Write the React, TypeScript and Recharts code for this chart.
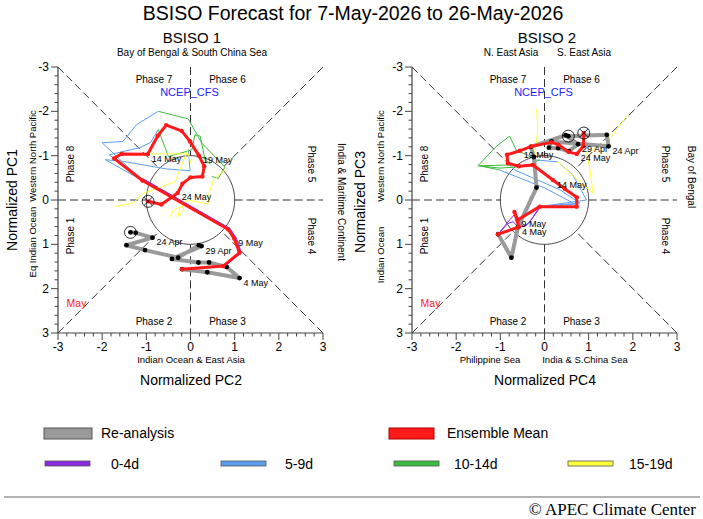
import React from "react";
import { ScatterChart, Scatter, XAxis, YAxis, ReferenceLine } from "recharts";

type Track = [number, number][];

const FONT = "'Liberation Sans', Arial, Helvetica, sans-serif";
const AXIS_COLOR = "#444";

// day labels of the analysed and forecast tracks
const OBS_DATES = [
  "22 Apr", "23 Apr", "24 Apr", "25 Apr", "26 Apr", "27 Apr", "28 Apr", "29 Apr",
  "30 Apr", "1 May", "2 May", "3 May", "4 May", "5 May", "6 May",
];
const FCST_DATES = [
  "6 May", "7 May", "8 May", "9 May", "10 May", "11 May", "12 May", "13 May", "14 May",
  "15 May", "16 May", "17 May", "18 May", "19 May", "20 May", "21 May", "22 May",
  "23 May", "24 May", "25 May", "26 May",
];
const LABELLED_DATES = ["24 Apr", "29 Apr", "4 May", "9 May", "14 May", "19 May", "24 May"];

// BSISO1: horizontal = PC2, vertical = PC1
const B1_OBS_PC2 = [-1.36, -1.24, -0.86, -1.45, -1.03, -0.28, 0.19, 0.25, -0.42, 0.18, 0.42, 0.82, 1.11, 0.38, -0.19];
const B1_OBS_PC1 = [0.73, 0.74, 0.85, 1.02, 1.13, 1.3, 1.02, 1.04, 1.33, 1.41, 1.41, 1.51, 1.76, 1.63, 1.56];
const B1_MEAN_PC2 = [
  -0.19, 0.74, 1.11, 0.99, 0.85, -1.09, -1.73, -1.56, -0.97, -0.74, -0.55, -0.2, -0.01,
  0.19, 0.31, 0.27, 0.0, -0.18, -0.29, -0.66, -0.96,
];
const B1_MEAN_PC1 = [
  1.56, 1.49, 1.19, 0.87, 0.66, -0.44, -0.94, -1.04, -1.03, -1.45, -1.69, -1.56, -1.32,
  -1.0, -0.76, -0.53, -0.51, -0.37, -0.16, 0.1, 0.03,
];

// BSISO1 member tracks, one list per lead-time band
const B1_LEAD_0_4: Track[] = [
  [[-0.15, 1.55], [0.78, 1.48], [1.15, 1.18], [1.04, 0.86], [0.9, 0.65], [-1.05, -0.46]],
  [[0.77, 1.5], [1.14, 1.2], [1.03, 0.88], [0.89, 0.64], [-1.06, -0.47]],
];
const B1_LEAD_5_9: Track[] = [
  [[-1.09, -0.44], [-2.0, -1.29], [-1.53, -1.32], [-1.22, -1.7], [-0.73, -2.0]],
  [[-1.09, -0.44], [-1.93, -0.91], [-1.52, -0.87], [-0.54, -0.7], [-0.01, -0.66], [-0.05, -1.15]],
  [[-1.09, -0.44], [-1.84, -1.02], [-1.15, -1.18], [-0.9, -1.3], [-0.73, -1.59]],
];
const B1_LEAD_10_14: Track[] = [
  [[-0.73, -2.0], [-0.05, -1.83], [0.25, -1.29], [0.78, -0.74], [0.63, -0.49], [0.48, -0.53]],
  [[-0.73, -1.59], [-0.5, -0.98], [0.03, -1.13], [0.1, -1.47], [0.22, -1.44], [0.33, -0.91], [0.45, -0.8]],
];
const B1_LEAD_15_19: Track[] = [
  [[-0.05, -1.15], [-0.35, -0.41], [-0.65, -0.3], [-1.07, -0.15], [-1.3, 0.07], [-1.71, 0.15]],
  [[-0.46, 0.38], [-0.39, 0.23], [-0.24, 0.15], [-0.28, 0.38], [-0.16, 0.23], [-0.2, 0.07],
   [-0.05, 0.0], [0.4, 0.09], [0.42, -0.15], [0.52, -0.45], [0.78, -0.68]],
  [[-1.15, -1.04], [-0.51, -1.04], [-0.05, -1.04], [0.02, -0.8]],
];

// BSISO2: horizontal = PC4, vertical = PC3
const B2_OBS_PC4 = [0.54, 1.41, 1.45, 0.16, 0.1, 0.31, 0.55, 0.76, 0.48, -0.31, -0.24, -0.18, -0.6, -0.75, -1.05];
const B2_OBS_PC3 = [-1.44, -1.47, -1.21, -1.32, -1.18, -1.17, -1.1, -1.26, -1.46, -1.2, -0.97, -0.28, 0.61, 1.3, 0.77];
const B2_MEAN_PC4 = [
  -1.05, -0.58, -0.68, -0.61, -0.11, 0.73, 0.73, 0.46, 0.19, -0.26, -0.58, -0.83, -0.85,
  -0.56, -0.3, 0.16, 0.31, 0.55, 0.73, 0.88, 0.89,
];
const B2_MEAN_PC3 = [
  0.77, 0.61, 0.27, 0.45, 0.15, 0.15, -0.06, -0.25, -0.45, -0.79, -0.76, -0.83, -1.02,
  -1.11, -1.21, -1.3, -1.25, -1.08, -1.04, -1.21, -1.51,
];

const B2_LEAD_0_4: Track[] = [
  [[-1.05, 0.77], [-0.83, 0.53], [-0.71, 0.49], [-0.6, 0.61], [-0.41, 0.57], [-0.3, 0.45], [-0.11, 0.15]],
  [[-1.05, 0.77], [-0.79, 0.45], [-0.65, 0.3], [-0.49, 0.61], [-0.37, 0.53], [-0.11, 0.19]],
];
const B2_LEAD_5_9: Track[] = [
  [[-0.11, 0.15], [0.8, 0.07], [0.35, -0.23], [-0.68, -0.68], [-0.79, -0.79]],
  [[-0.11, 0.15], [0.95, 0.0], [0.64, -0.57], [0.3, -0.86], [-0.27, -0.91]],
  [[-0.11, 0.15], [0.69, 0.09], [0.01, -0.27], [-0.9, -0.63], [-1.02, -0.68]],
];
const B2_LEAD_10_14: Track[] = [
  [[-0.79, -0.79], [-1.51, -0.77], [-1.09, -1.21], [-0.79, -1.44], [-0.64, -1.13], [-0.26, -0.95]],
  [[-1.02, -0.68], [-1.47, -0.77], [-1.01, -0.72], [-0.41, -0.76], [-0.11, -0.91]],
];
const B2_LEAD_15_19: Track[] = [
  [[-0.26, -0.95], [-0.19, -1.21], [-0.15, -1.67], [-0.18, -2.04]],
  [[0.3, -0.86], [1.1, -0.15], [1.03, -0.68], [0.95, -1.06], [1.41, -1.29], [1.86, -1.89]],
];

const LEAD_COLORS = ["#8a2be2", "#5a9ef0", "#3cbc3c", "#ffff3a"];
const LEAD_NAMES = ["0-4d", "5-9d", "10-14d", "15-19d"];

const AXIS_TICKS = Array.from({ length: 31 }, (_, i) => (i * 2 - 30) / 10);

// amplitude-one circle and the phase dividers outside it
const RING = Array.from({ length: 121 }, (_, i) => ({
  x: Math.cos((i * Math.PI) / 60),
  y: Math.sin((i * Math.PI) / 60),
}));
const S = Math.SQRT1_2;
const DIVIDERS: Track[] = [
  [[-3, -3], [-S, -S]], [[3, -3], [S, -S]], [[-3, 3], [-S, S]], [[3, 3], [S, S]],
  [[-3, 0], [-1, 0]], [[1, 0], [3, 0]], [[0, -3], [0, -1]], [[0, 1], [0, 3]],
];

const toPts = (xs: number[], ys: number[], dates: string[]) =>
  xs.map((x, i) => ({ x, y: ys[i], date: dates[i] }));
const trackPts = (t: Track) => t.map(([x, y]) => ({ x, y }));

function tickRenderer(side: "bottom" | "top" | "left" | "right", labels: boolean) {
  return (props: any) => {
    const { x, y, payload } = props;
    const v = payload.value as number;
    const major = Math.abs(v - Math.round(v)) < 1e-6;
    const len = major ? 7 : 3.5;
    const dx = side === "left" ? -1 : side === "right" ? 1 : 0;
    const dy = side === "bottom" ? 1 : side === "top" ? -1 : 0;
    let label = null;
    if (labels && major) {
      const txt = String(Math.round(v) === 0 ? 0 : Math.round(v));
      label =
        side === "bottom" ? (
          <text x={x} y={y + 14} textAnchor="middle" dominantBaseline="central" fontSize={12} fill="#000" fontFamily={FONT}>
            {txt}
          </text>
        ) : (
          <text x={x - 9} y={y} textAnchor="end" dominantBaseline="central" fontSize={12} fill="#000" fontFamily={FONT}>
            {txt}
          </text>
        );
    }
    return (
      <g>
        <line x1={x} y1={y} x2={x + dx * len} y2={y + dy * len} stroke={AXIS_COLOR} strokeWidth={1} />
        {label}
      </g>
    );
  };
}

const NoDot = () => <g />;

interface PanelProps {
  obsX: number[];
  obsY: number[];
  meanX: number[];
  meanY: number[];
  leads: Track[][];
}

function PhasePanel({ obsX, obsY, meanX, meanY, leads }: PanelProps) {
  const obs = toPts(obsX, obsY, OBS_DATES);
  const mean = toPts(meanX, meanY, FCST_DATES);
  const tagged = [...obs, ...mean].filter((p) => LABELLED_DATES.includes(p.date));
  const axis = { xAxisId: "b", yAxisId: "l" };

  return (
    <ScatterChart width={352} height={400} margin={{ top: 67, right: 29, bottom: 0, left: 0 }}>
      <XAxis xAxisId="b" type="number" dataKey="x" domain={[-3, 3]} ticks={AXIS_TICKS} interval={0}
        allowDataOverflow height={67} tickSize={0} tickMargin={0} tickLine={false}
        axisLine={{ stroke: AXIS_COLOR, strokeWidth: 1.2 }} tick={tickRenderer("bottom", true)} />
      <XAxis xAxisId="t" orientation="top" type="number" dataKey="x" domain={[-3, 3]} ticks={AXIS_TICKS}
        interval={0} allowDataOverflow height={0} tickSize={0} tickMargin={0} tickLine={false}
        axisLine={{ stroke: AXIS_COLOR, strokeWidth: 1.2 }} tick={tickRenderer("top", false)} />
      <YAxis yAxisId="l" type="number" dataKey="y" domain={[-3, 3]} reversed ticks={AXIS_TICKS} interval={0}
        allowDataOverflow width={58} tickSize={0} tickMargin={0} tickLine={false}
        axisLine={{ stroke: AXIS_COLOR, strokeWidth: 1.2 }} tick={tickRenderer("left", true)} />
      <YAxis yAxisId="r" orientation="right" type="number" dataKey="y" domain={[-3, 3]} reversed
        ticks={AXIS_TICKS} interval={0} allowDataOverflow width={0} tickSize={0} tickMargin={0}
        tickLine={false} axisLine={{ stroke: AXIS_COLOR, strokeWidth: 1.2 }} tick={tickRenderer("right", false)} />
      <Scatter xAxisId="t" yAxisId="r" data={[{ x: 0, y: 0 }]} shape={NoDot} isAnimationActive={false} />

      {DIVIDERS.map((seg, i) => (
        <ReferenceLine key={`d${i}`} {...axis} segment={[{ x: seg[0][0], y: seg[0][1] }, { x: seg[1][0], y: seg[1][1] }]}
          stroke="#333" strokeWidth={1} strokeDasharray="8 4" />
      ))}
      <Scatter {...axis} data={RING} shape={NoDot} line={{ stroke: "#333", strokeWidth: 0.9 }} isAnimationActive={false} />

      {leads.map((group, g) =>
        group.map((t, k) => (
          <Scatter key={`m${g}-${k}`} {...axis} data={trackPts(t)} shape={NoDot}
            line={{ stroke: LEAD_COLORS[g], strokeWidth: 1 }} isAnimationActive={false} />
        )),
      )}

      <Scatter {...axis} data={obs} isAnimationActive={false}
        line={{ stroke: "#9a9a9a", strokeWidth: 4, strokeLinejoin: "round" }}
        shape={(p: any) => <circle cx={p.cx} cy={p.cy} r={2.4} fill="#000" />} />
      <Scatter {...axis} data={mean} isAnimationActive={false}
        line={{ stroke: "#ff1a1a", strokeWidth: 3, strokeLinejoin: "round" }}
        shape={(p: any) => <circle cx={p.cx} cy={p.cy} r={2.2} fill="#ff1a1a" />} />

      {/* start of the analysed track */}
      <Scatter {...axis} data={obs.slice(0, 1)} isAnimationActive={false}
        shape={(p: any) => <circle cx={p.cx} cy={p.cy} r={6} fill="none" stroke="#000" strokeWidth={0.8} />} />
      {/* end of the ensemble-mean forecast */}
      <Scatter {...axis} data={mean.slice(-1)} isAnimationActive={false}
        shape={(p: any) => (
          <g stroke="#000" strokeWidth={0.8} fill="none">
            <circle cx={p.cx} cy={p.cy} r={6} />
            <line x1={p.cx - 4.2} y1={p.cy - 4.2} x2={p.cx + 4.2} y2={p.cy + 4.2} />
            <line x1={p.cx - 4.2} y1={p.cy + 4.2} x2={p.cx + 4.2} y2={p.cy - 4.2} />
          </g>
        )} />
      <Scatter {...axis} data={tagged} isAnimationActive={false}
        shape={(p: any) => (
          <text x={p.cx + 4} y={p.cy + 4.5} dominantBaseline="central" fontSize={9} fill="#000" fontFamily={FONT}>
            {p.payload.date}
          </text>
        )} />
    </ScatterChart>
  );
}

function T({ x, y, size = 10, rot = 0, color = "#000", anchor = "middle", family = FONT, children }: any) {
  return (
    <text x={x} y={y} fontSize={size} fill={color} textAnchor={anchor} dominantBaseline="central"
      fontFamily={family} transform={rot ? `rotate(${rot} ${x} ${y})` : undefined}>
      {children}
    </text>
  );
}

function PanelText({ cx }: { cx: number }) {
  return (
    <g>
      <T x={cx - 36.5} y={79.5}>Phase 7</T>
      <T x={cx + 37} y={79.5}>Phase 6</T>
      <T x={cx - 1} y={92} size={11} color="#2323ff">NCEP_CFS</T>
      <T x={cx - 36.5} y={321}>Phase 2</T>
      <T x={cx + 37} y={321}>Phase 3</T>
      <T x={cx - 120.5} y={164} rot={-90}>Phase 8</T>
      <T x={cx - 120.5} y={236} rot={-90}>Phase 1</T>
      <T x={cx + 120.5} y={164} rot={90}>Phase 5</T>
      <T x={cx + 120.5} y={236} rot={90}>Phase 4</T>
      <T x={cx - 114} y={303} size={10.5} color="#ff2020">May</T>
    </g>
  );
}

export default function App() {
  const leads1 = [B1_LEAD_0_4, B1_LEAD_5_9, B1_LEAD_10_14, B1_LEAD_15_19];
  const leads2 = [B2_LEAD_0_4, B2_LEAD_5_9, B2_LEAD_10_14, B2_LEAD_15_19];
  const legendRow2 = [
    { x: 45, tx: 111 },
    { x: 221, tx: 285 },
    { x: 394, tx: 454 },
    { x: 568, tx: 629 },
  ];

  return (
    <div style={{ position: "absolute", left: 0, top: 0, width: 703, height: 519, background: "#fff" }}>
      <div style={{ position: "absolute", left: 0, top: 0 }}>
        <PhasePanel obsX={B1_OBS_PC2} obsY={B1_OBS_PC1} meanX={B1_MEAN_PC2} meanY={B1_MEAN_PC1} leads={leads1} />
      </div>
      <div style={{ position: "absolute", left: 354, top: 0 }}>
        <PhasePanel obsX={B2_OBS_PC4} obsY={B2_OBS_PC3} meanX={B2_MEAN_PC4} meanY={B2_MEAN_PC3} leads={leads2} />
      </div>

      <svg width={703} height={519} style={{ position: "absolute", left: 0, top: 0, pointerEvents: "none" }}>
        <T x={353} y={13} size={19.5}>BSISO Forecast for 7-May-2026 to 26-May-2026</T>

        <T x={192} y={37} size={15}>BSISO 1</T>
        <T x={192} y={52}>Bay of Bengal &amp; South China Sea</T>
        <PanelText cx={190.5} />
        <T x={12} y={200} size={14} rot={-90}>Normalized PC1</T>
        <T x={32} y={156} size={9.5} rot={-90}>Western North Pacific</T>
        <T x={32} y={242} size={9.5} rot={-90}>Eq Indian Ocean</T>
        <T x={341} y={202} size={10} rot={90}>India &amp; Maritime Continent</T>
        <T x={191} y={359} size={9.5}>Indian Ocean &amp; East Asia</T>
        <T x={191} y={380} size={14}>Normalized PC2</T>

        <T x={547} y={37} size={15}>BSISO 2</T>
        <T x={511} y={52}>N. East Asia</T>
        <T x={584} y={52}>S. East Asia</T>
        <PanelText cx={544.5} />
        <T x={360} y={202} size={14} rot={-90}>Normalized PC3</T>
        <T x={380} y={156} size={9.5} rot={-90}>Western North Pacific</T>
        <T x={380} y={255} size={9.5} rot={-90}>Indian Ocean</T>
        <T x={691} y={177} size={10} rot={90}>Bay of Bengal</T>
        <T x={490} y={359} size={9.5}>Philippine Sea</T>
        <T x={585} y={359} size={9.5}>India &amp; S.China Sea</T>
        <T x={545} y={380} size={14}>Normalized PC4</T>

        <rect x={44} y={428} width={48} height={11} fill="#9a9a9a" stroke="#555" strokeWidth={1} />
        <T x={101} y={433} size={14} anchor="start">Re-analysis</T>
        <rect x={389} y={428} width={45} height={11} fill="#ff1a1a" stroke="#a00" strokeWidth={1} />
        <T x={447} y={433} size={14} anchor="start">Ensemble Mean</T>

        {LEAD_NAMES.map((name, i) => (
          <g key={name}>
            <rect x={legendRow2[i].x} y={461} width={45} height={5} fill={LEAD_COLORS[i]} stroke="#555" strokeWidth={0.8} />
            <T x={legendRow2[i].tx} y={463.5} size={14} anchor="start">{name}</T>
          </g>
        ))}

        <line x1={4} y1={497} x2={700} y2={497} stroke="#999" strokeWidth={1.5} />
        <T x={696} y={509.5} size={17} anchor="end" family="'Liberation Serif', 'Times New Roman', serif">
          © APEC Climate Center
        </T>
      </svg>
    </div>
  );
}
